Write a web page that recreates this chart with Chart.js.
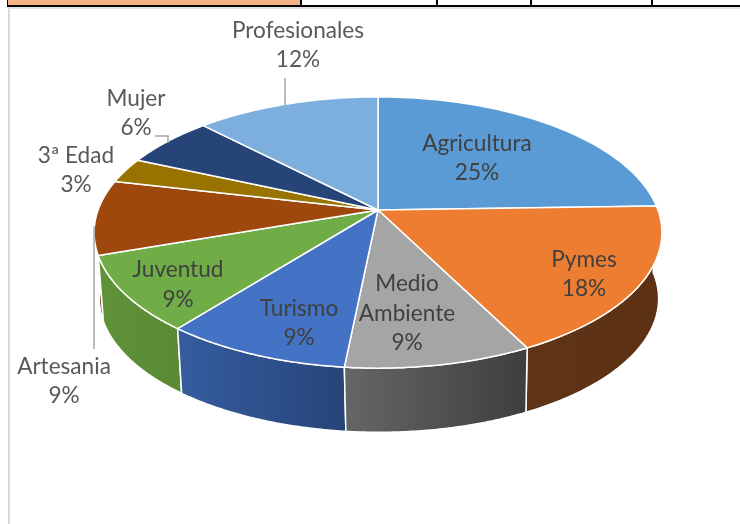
<!DOCTYPE html>
<html>
<head>
<meta charset="utf-8">
<style>
  html, body { margin: 0; padding: 0; background: #fff; }
  #wrap { position: relative; width: 740px; height: 524px; overflow: hidden; }
  #wrap div { position: absolute; }
  canvas { position: absolute; left: 0; top: 0; }
</style>
<script src="https://cdn.jsdelivr.net/npm/chart.js@4/dist/chart.umd.min.js"></script>
</head>
<body>
<div id="wrap">
  <!-- spreadsheet row above the chart -->
  <div style="left:8px;top:0;width:293px;height:5px;background:#f4b183"></div>
  <div style="left:7px;top:5px;width:733px;height:2px;background:#000"></div>
  <div style="left:7px;top:0;width:1px;height:6px;background:#000"></div>
  <div style="left:300px;top:0;width:2px;height:6px;background:#000"></div>
  <div style="left:436px;top:0;width:2px;height:6px;background:#000"></div>
  <div style="left:530px;top:0;width:2px;height:6px;background:#000"></div>
  <div style="left:651px;top:0;width:2px;height:6px;background:#000"></div>
  <!-- chart frame -->
  <div style="left:8px;top:7px;width:732px;height:2px;background:#e4e4e4"></div>
  <div style="left:8px;top:7px;width:2px;height:517px;background:#d9d9d9"></div>
  <canvas id="chart" width="740" height="524"></canvas>
</div>
<script>
const categories = ['Agricultura', 'Pymes', 'Medio Ambiente', 'Turismo', 'Juventud', 'Artesania', '3ª Edad', 'Mujer', 'Profesionales'];
const shares = [24.5, 18.0, 9.1, 9.1, 9.0, 8.9, 3.0, 6.1, 12.3];
const percentLabels = ['25%', '18%', '9%', '9%', '9%', '9%', '3%', '6%', '12%'];

const topColors = ['#5b9bd5', '#ed7d31', '#a5a5a5', '#4472c4', '#70ad47', '#9e480e', '#997300', '#264478', '#7cafdd'];
const wallLeft = ['#37618a', '#603416', '#666666', '#365da0', '#5f9239', '#7a380b', '#6b5000', '#1a3054', '#4c7aa3'];
const wallRight = ['#37618a', '#5c3013', '#3e3e3e', '#264478', '#5a8a35', '#7a380b', '#6b5000', '#1a3054', '#4c7aa3'];

// tilt of the pie: ratios to the arc radius, plus the fake perspective
const TILT = { sx: 1.333, sy: 0.628, k: 0.166, depth: 66.5, bottomScale: 0.985, bottomShift: 1 };

// text anchor per label line, outside labels are lighter
const labelLayout = [
  { x: 477, y: [144, 173], lines: ['Agricultura'], color: '#404040' },
  { x: 584, y: [260, 289], lines: ['Pymes'], color: '#404040' },
  { x: 407, y: [284, 314, 343], lines: ['Medio', 'Ambiente'], color: '#404040' },
  { x: 299, y: [309, 338], lines: ['Turismo'], color: '#404040' },
  { x: 178, y: [270, 300], lines: ['Juventud'], color: '#404040' },
  { x: 64, y: [367, 396], lines: ['Artesania'], color: '#595959' },
  { x: 76, y: [156, 185], lines: ['3ª Edad'], color: '#595959' },
  { x: 136, y: [99, 128], lines: ['Mujer'], color: '#595959' },
  { x: 298, y: [31, 60], lines: ['Profesionales'], color: '#595959' }
];

const leaderLines = [
  [[285, 78], [285, 105]],
  [[155, 136], [168, 136], [168, 143]],
  [[94, 226], [94, 349]]
];

function project(arc, angle, bottom) {
  const s = bottom ? TILT.bottomScale : 1;
  const c = Math.cos(angle), n = Math.sin(angle);
  const w = 1 - TILT.k * n;
  return {
    x: arc.x + (bottom ? TILT.bottomShift : 0) + s * TILT.sx * arc.outerRadius * c / w,
    y: arc.y + (bottom ? TILT.depth : 0) + s * TILT.sy * arc.outerRadius * n / w
  };
}

function rimPoints(arc, bottom) {
  const steps = 60, pts = [];
  for (let i = 0; i <= steps; i++) {
    pts.push(project(arc, arc.startAngle + (arc.endAngle - arc.startAngle) * i / steps, bottom));
  }
  return pts;
}

const tiltedPie = {
  id: 'tiltedPie',
  beforeDatasetsDraw(chart) {
    const ctx = chart.ctx;
    const arcs = chart.getDatasetMeta(0).data;
    ctx.save();
    ctx.lineJoin = 'round';
    ctx.strokeStyle = '#fff';
    ctx.lineWidth = 1.5;

    // walls first, back ones before front ones
    const order = arcs.map((a, i) => i).sort((a, b) => {
      return Math.sin((arcs[a].startAngle + arcs[a].endAngle) / 2) - Math.sin((arcs[b].startAngle + arcs[b].endAngle) / 2);
    });
    order.forEach(i => {
      const top = rimPoints(arcs[i], false);
      const low = rimPoints(arcs[i], true);
      const xs = top.concat(low).map(p => p.x);
      const grad = ctx.createLinearGradient(Math.min(...xs), 0, Math.max(...xs), 0);
      grad.addColorStop(0, wallLeft[i]);
      grad.addColorStop(1, wallRight[i]);
      ctx.beginPath();
      top.concat(low.reverse()).forEach(p => ctx.lineTo(p.x, p.y));
      ctx.closePath();
      ctx.fillStyle = grad;
      ctx.fill();
      ctx.stroke();
    });

    arcs.forEach((arc, i) => {
      ctx.beginPath();
      ctx.moveTo(arc.x, arc.y);
      rimPoints(arc, false).forEach(p => ctx.lineTo(p.x, p.y));
      ctx.closePath();
      ctx.fillStyle = topColors[i];
      ctx.fill();
      ctx.stroke();
    });
    ctx.restore();
    return false;
  },
  afterDraw(chart) {
    const ctx = chart.ctx;
    ctx.save();
    ctx.strokeStyle = '#a6a6a6';
    ctx.lineWidth = 1.5;
    leaderLines.forEach(l => {
      ctx.beginPath();
      l.forEach((p, i) => (i ? ctx.lineTo(p[0], p[1]) : ctx.moveTo(p[0], p[1])));
      ctx.stroke();
    });
    ctx.font = '22.6px Lato';
    ctx.textAlign = 'center';
    ctx.textBaseline = 'middle';
    labelLayout.forEach((l, i) => {
      ctx.fillStyle = l.color;
      l.lines.concat(percentLabels[i]).forEach((t, j) => ctx.fillText(t, l.x, l.y[j]));
    });
    ctx.restore();
  }
};

new Chart(document.getElementById('chart'), {
  type: 'pie',
  data: {
    labels: categories,
    datasets: [{ data: shares, backgroundColor: topColors, borderWidth: 0 }]
  },
  options: {
    responsive: false,
    animation: false,
    layout: { padding: { left: 16, bottom: 104 } },
    plugins: {
      legend: { display: false },
      tooltip: { enabled: false }
    }
  },
  plugins: [tiltedPie]
});
</script>
</body>
</html>
